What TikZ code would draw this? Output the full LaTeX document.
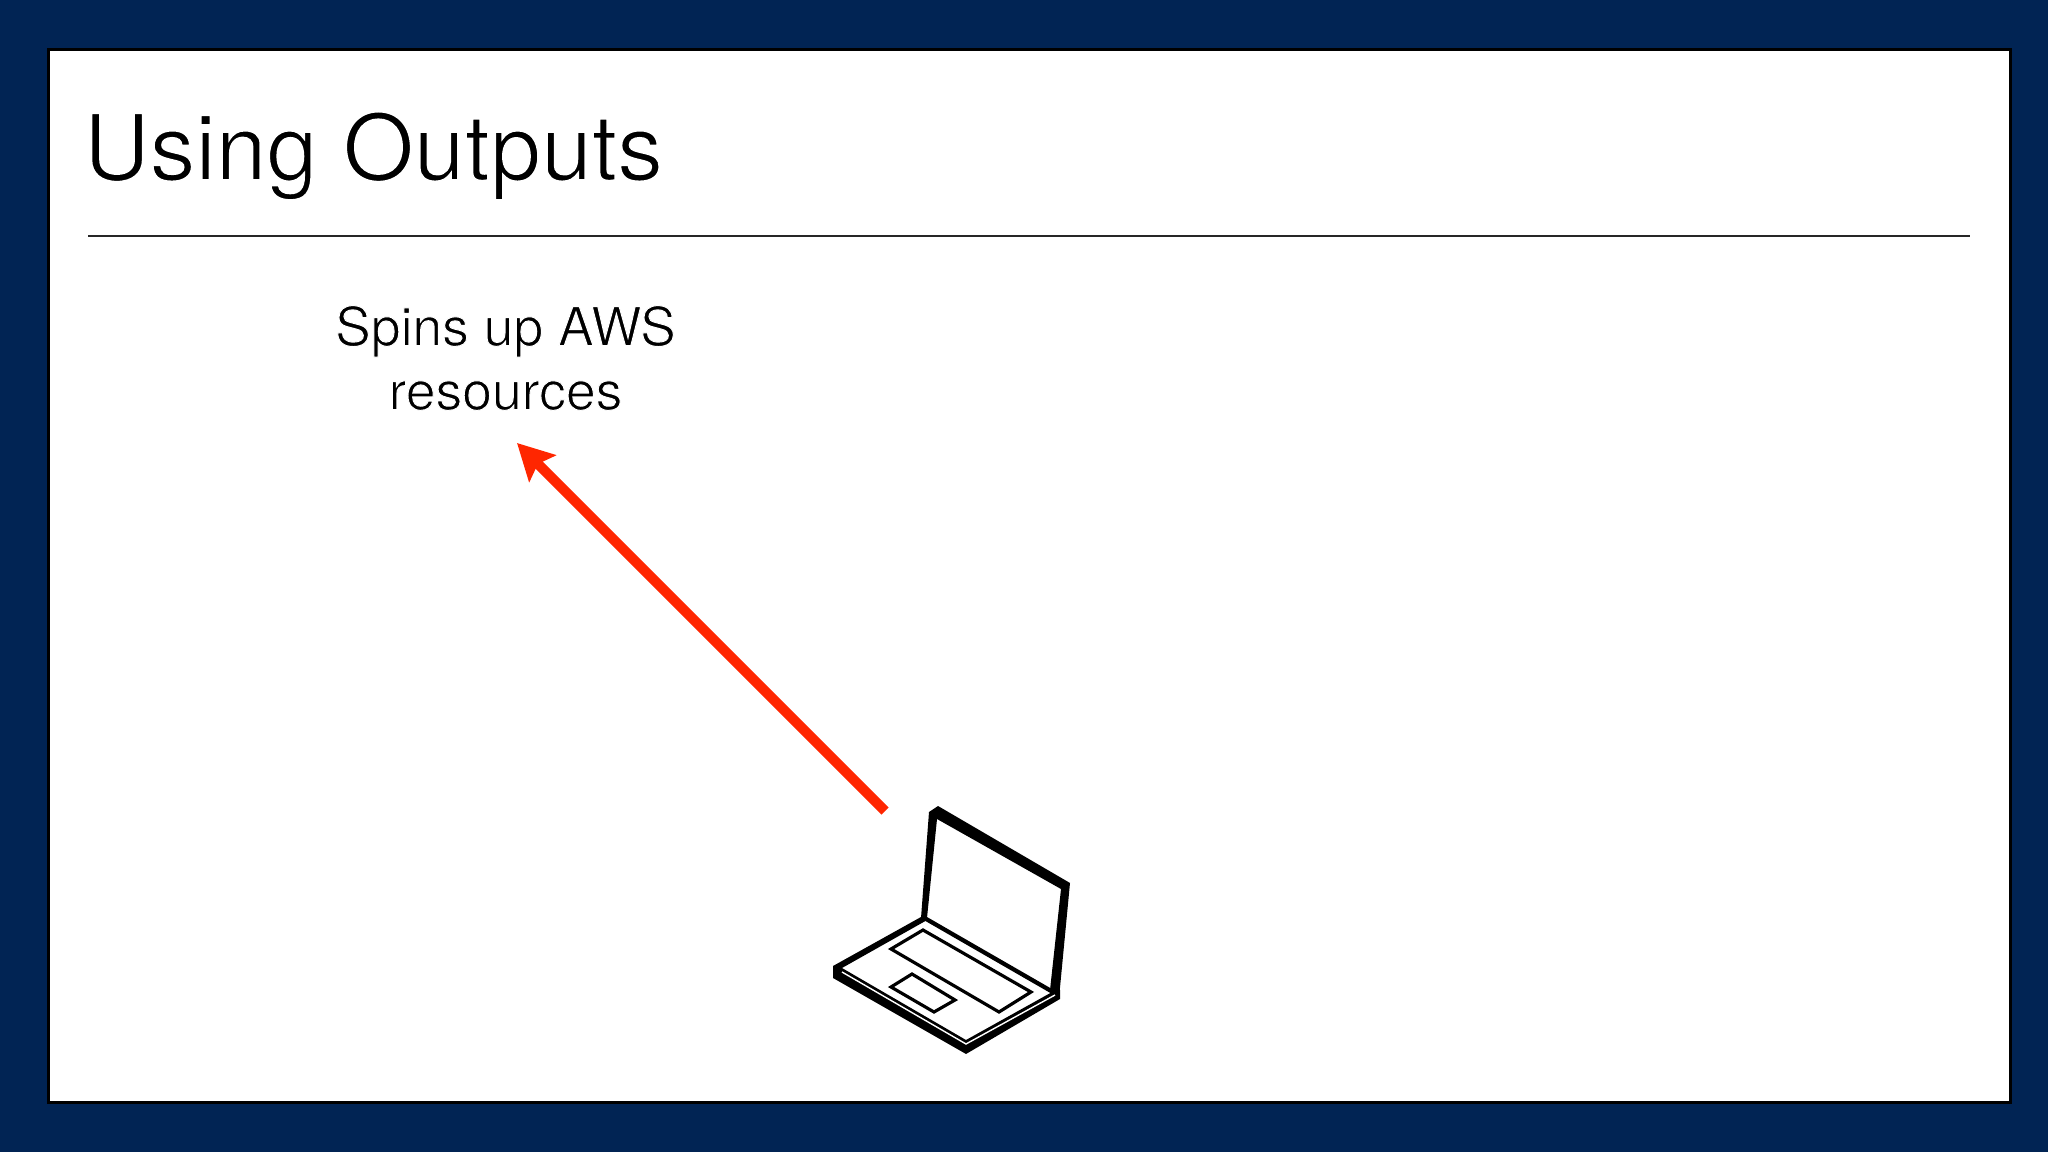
\documentclass[tikz,border=0pt]{standalone}
\usepackage{fontspec}
\setmainfont{TeX Gyre Heros}
\usetikzlibrary{arrows.meta}
\definecolor{slidenavy}{RGB}{1,36,84}
\definecolor{arrowred}{RGB}{255,38,0}
\newcommand{\lightface}[2]{\special{pdf:code 2 Tr #1 w 1 1 1 RG}#2\special{pdf:code 0 Tr}}

\begin{document}
\begin{tikzpicture}[x=.01cm,y=-.01cm,
    title/.style={anchor=base west,inner sep=0pt,font=\fontsize{26}{30}\selectfont},
    note/.style={align=center,inner sep=0pt,font=\fontsize{15.2}{18.2}\selectfont},
    thinline/.style={draw=black,line width=.9pt,line join=miter},
    redarrow/.style={-{Stealth[length=10.2pt,width=10.6pt,inset=1.8pt]},draw=arrowred,line width=2.9pt}]

        \fill[slidenavy] (0,0) rectangle (2048,1152);
        \draw[fill=white,draw=black,line width=.8pt] (48.5,49.5) rectangle (2010.5,1102.5);

        \node[title] (head) at (83,180) {\lightface{.45}{Using Outputs}};
        \coordinate (rulea) at (88,236);
        \coordinate (ruleb) at (1970,236);
        \draw[line width=.55pt,black!85] (rulea) -- (ruleb);

        \node[note] (spins) at (505.5,358) {\lightface{.28}{Spins up AWS}\\\lightface{.28}{resources}};

        \coordinate (tail) at (885,811);
        \coordinate (tip) at (517,443);
        \draw[redarrow] (tail) -- (tip);

        % lid
        \fill[black,line join=round] (921,918) -- (929,812) -- (938,806) -- (1070,883) -- (1059,998) -- (1050,990)
            -- (1061,889) -- (937,819) -- (927,918) -- cycle;
        % base
        \fill[black,even odd rule] (921,917) -- (833,966) -- (833,978) -- (966,1054) -- (1060,999) -- (1060,990) -- (1052,989)
            -- (927,917) -- cycle
            (925.4,921) -- (1050.4,993) -- (966,1040) -- (842,968) -- cycle;
        \draw[white,line width=.4pt] (842,972) -- (966,1044) -- (1055,995);

        \draw[thinline] (923,930) -- (1031,992) -- (999,1012) -- (891,949) -- cycle;
        \draw[thinline] (912,974) -- (955,1000) -- (934,1012) -- (891,987) -- cycle;

\end{tikzpicture}
\end{document}
